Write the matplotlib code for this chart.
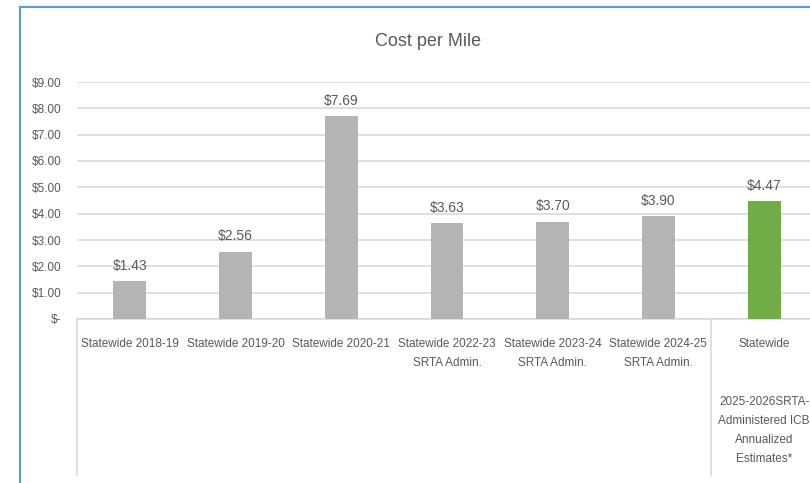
import matplotlib
matplotlib.use('Agg')
import matplotlib.pyplot as plt
from matplotlib.lines import Line2D

plt.rcParams['font.family'] = ['Liberation Sans', 'DejaVu Sans']

# data
categories = ['Statewide 2018-19', 'Statewide 2019-20', 'Statewide 2020-21',
              'Statewide 2022-23\nSRTA Admin.', 'Statewide 2023-24\nSRTA Admin.',
              'Statewide 2024-25\nSRTA Admin.',
              'Statewide\n\n\n2025-2026SRTA-\nAdministered ICB\nAnnualized\nEstimates*']
cost = [1.43, 2.56, 7.69, 3.63, 3.70, 3.90, 4.47]
yticks = [0, 1, 2, 3, 4, 5, 6, 7, 8, 9]
ytick_labels = ['$-', '$1.00', '$2.00', '$3.00', '$4.00', '$5.00', '$6.00',
                '$7.00', '$8.00', '$9.00']

W, H = 810, 483
fig = plt.figure(figsize=(W / 100, H / 100), dpi=100)
ax = fig.add_axes([77 / W, (H - 319) / H, 740 / W, 237 / H])

txt = '#595959'
colors = ['#B4B4B4'] * 6 + ['#70AD47']
x = list(range(len(cost)))
ax.bar(x, cost, width=0.31, color=colors, zorder=3)
for xi, v in zip(x, cost):
    ax.text(xi, v + 0.33, '${:.2f}'.format(v), ha='center', va='bottom',
            fontsize=10, color=txt)

ax.set_xlim(-0.5, 6.5)
ax.set_ylim(0, 9)
ax.set_yticks(yticks)
ax.set_yticklabels(ytick_labels)
ax.set_xticks(x)
ax.set_xticklabels(categories, linespacing=1.78)
ax.tick_params(axis='both', length=0, labelsize=8.5, colors=txt)
ax.tick_params(axis='x', pad=14)
ax.tick_params(axis='y', pad=11)
ax.grid(axis='y', color='#D9D9D9', linewidth=1.2, zorder=0)
for s in ['top', 'right', 'left']:
    ax.spines[s].set_visible(False)
ax.spines['bottom'].set_color('#D9D9D9')
ax.spines['bottom'].set_linewidth(1.2)

# category separators below the axis
for xs in [-0.5, 5.5]:
    ax.axvline(xs, ymin=-0.66, ymax=0, color='#D9D9D9', linewidth=1.2,
               clip_on=False)

fig.text(428 / W, 1 - 42 / H, 'Cost per Mile', ha='center', va='center',
         fontsize=13, color=txt)

# chart frame (cropped on the right and bottom)
fig.add_artist(Line2D([20 / W, 20 / W], [0, 1 - 7 / H], color='#5B9BD5',
                      linewidth=1.5, transform=fig.transFigure))
fig.add_artist(Line2D([20 / W, 1], [1 - 7 / H, 1 - 7 / H], color='#5B9BD5',
                      linewidth=1.5, transform=fig.transFigure))

fig.savefig('out.png', dpi=100)
